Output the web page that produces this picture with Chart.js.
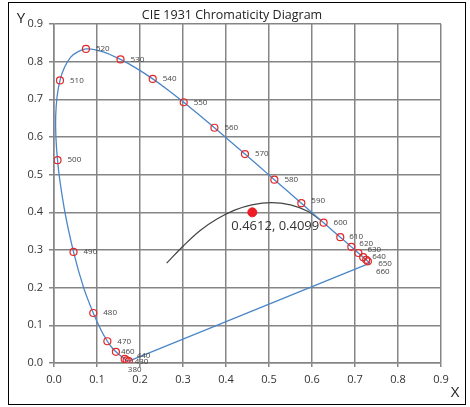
<!DOCTYPE html>
<html>
<head>
<meta charset="utf-8">
<script src="https://cdn.jsdelivr.net/npm/chart.js@4/dist/chart.umd.min.js"></script>
<style>
  html, body { margin: 0; padding: 0; background: #fff; }
  #frame { position: absolute; left: 8px; top: 2px; width: 458px; height: 403px; border: 1px solid #000; box-sizing: border-box; }
  #chart { position: absolute; left: 0; top: 0; }
</style>
</head>
<body>
<div id="frame"></div>
<canvas id="chart" width="470" height="407"></canvas>
<script>
// spectral locus, CIE 1931 2deg, 5 nm steps
const locusNm = [380,385,390,395,400,405,410,415,420,425,430,435,440,445,450,455,460,465,470,475,480,485,490,495,500,505,510,515,520,525,530,535,540,545,550,555,560,565,570,575,580,585,590,595,600,605,610,615,620,625,630,635,640,645,650,655,660,665,670,675,680,685,690,695,700];
const locusX = [0.1741,0.1740,0.1738,0.1736,0.1733,0.1730,0.1726,0.1721,0.1714,0.1703,0.1689,0.1669,0.1644,0.1611,0.1566,0.1510,0.1440,0.1355,0.1241,0.1096,0.0913,0.0687,0.0454,0.0235,0.0082,0.0039,0.0139,0.0389,0.0743,0.1142,0.1547,0.1929,0.2296,0.2658,0.3016,0.3373,0.3731,0.4087,0.4441,0.4788,0.5125,0.5448,0.5752,0.6029,0.6270,0.6482,0.6658,0.6801,0.6915,0.7006,0.7079,0.7140,0.7190,0.7230,0.7260,0.7283,0.7300,0.7311,0.7320,0.7327,0.7334,0.7340,0.7344,0.7346,0.7347];
const locusY = [0.0050,0.0050,0.0049,0.0049,0.0048,0.0048,0.0048,0.0048,0.0051,0.0058,0.0069,0.0086,0.0109,0.0138,0.0177,0.0227,0.0297,0.0399,0.0578,0.0868,0.1327,0.2007,0.2950,0.4127,0.5384,0.6548,0.7502,0.8120,0.8338,0.8262,0.8059,0.7816,0.7543,0.7243,0.6923,0.6589,0.6245,0.5896,0.5547,0.5202,0.4866,0.4544,0.4242,0.3965,0.3725,0.3514,0.3340,0.3197,0.3083,0.2993,0.2920,0.2859,0.2809,0.2770,0.2740,0.2717,0.2700,0.2689,0.2680,0.2673,0.2666,0.2660,0.2656,0.2654,0.2653];

// wavelengths marked with a circle and a label
const markerNm = [380,430,440,460,470,480,490,500,510,520,530,540,550,560,570,580,590,600,610,620,630,640,650,660];

// dark arc
const arcX = [0.262,0.300,0.340,0.380,0.420,0.460,0.505,0.550,0.590,0.619];
const arcY = [0.265,0.310,0.352,0.383,0.406,0.420,0.426,0.420,0.403,0.380];

// measured point
const pointX = [0.4612];
const pointY = [0.400];
const pointText = '0.4612, 0.4099';

const xTicks = [0,0.1,0.2,0.3,0.4,0.5,0.6,0.7,0.8,0.9];
const yTicks = [0,0.1,0.2,0.3,0.4,0.5,0.6,0.7,0.8,0.9];

const FONT = "'Open Sans', 'Noto Sans', sans-serif";

const locusPts = locusX.map((x, i) => ({ x: x, y: locusY[i] }));
const markerPts = markerNm.map(nm => {
  const i = locusNm.indexOf(nm);
  return { x: locusX[i], y: locusY[i] };
});
const purplePts = [locusPts[0], locusPts[locusPts.length - 1]];
const arcPts = arcX.map((x, i) => ({ x: x, y: arcY[i] }));
const centerPts = pointX.map((x, i) => ({ x: x, y: pointY[i] }));

// label nudges (px) for the crowded ends
const nudge = {
  380: [-1, 9], 430: [8, 1], 440: [12, -3], 460: [5, 0],
  590: [10, -2], 610: [9, 0], 620: [8, -3], 630: [9, -3],
  640: [9, 0], 650: [12, 4], 660: [8, 10]
};

const labelPlugin = {
  id: 'labels',
  afterDatasetsDraw(chart) {
    const ctx = chart.ctx;
    ctx.save();
    // wavelength labels
    const meta = chart.getDatasetMeta(2);
    ctx.font = "8px " + FONT;
    ctx.fillStyle = '#444';
    ctx.textAlign = 'left';
    ctx.textBaseline = 'middle';
    meta.data.forEach((el, i) => {
      const nm = markerNm[i];
      const d = nudge[nm] || [10, 0];
      ctx.fillText(String(nm), el.x + d[0], el.y + d[1]);
    });
    // point label
    const pm = chart.getDatasetMeta(3).data[0];
    ctx.font = "13px " + FONT;
    ctx.fillStyle = '#333';
    ctx.fillText(pointText, pm.x - 21, pm.y + 14);
    // titles
    ctx.font = "12.5px " + FONT;
    ctx.fillStyle = '#222';
    ctx.textAlign = 'center';
    ctx.fillText('CIE 1931 Chromaticity Diagram', 232, 15);
    ctx.font = "15px " + FONT;
    ctx.fillText('Y', 21, 19);
    ctx.fillText('X', 455, 393);
    ctx.restore();
  }
};

new Chart(document.getElementById('chart'), {
  type: 'scatter',
  data: {
    datasets: [
      { data: arcPts, showLine: true, borderColor: '#444', borderWidth: 1.2, pointRadius: 0, tension: 0.4, order: 5 },
      { data: locusPts, showLine: true, borderColor: '#4a86c8', borderWidth: 1.3, pointRadius: 0, tension: 0.3, order: 4 },
      { data: markerPts, showLine: false, pointRadius: 3.5, pointBorderColor: '#e02828', pointBorderWidth: 1.2, pointBackgroundColor: 'rgba(0,0,0,0)', order: 2 },
      { data: centerPts, showLine: false, pointRadius: 4.5, pointBackgroundColor: '#ee1c24', pointBorderColor: '#ee1c24', order: 1 },
      { data: purplePts, showLine: true, borderColor: '#4a86c8', borderWidth: 1.3, pointRadius: 0, tension: 0, order: 3 }
    ]
  },
  options: {
    responsive: false,
    animation: false,
    layout: { padding: { left: 0, top: 24, right: 29, bottom: 0 } },
    plugins: { legend: { display: false }, tooltip: { enabled: false }, title: { display: false } },
    scales: {
      x: {
        type: 'linear', min: 0, max: 0.9,
        afterBuildTicks: s => { s.ticks = xTicks.map(v => ({ value: v })); },
        afterFit: s => { s.height = 44; },
        grid: { color: '#858585', lineWidth: 1.5, tickLength: 4 },
        border: { color: '#858585', width: 1.5 },
        ticks: { color: '#333', font: { family: FONT, size: 11 }, padding: 6, callback: v => v.toFixed(1) }
      },
      y: {
        type: 'linear', min: 0, max: 0.9,
        afterBuildTicks: s => { s.ticks = yTicks.map(v => ({ value: v })); },
        afterFit: s => { s.width = 54; },
        grid: { color: '#858585', lineWidth: 1.5, tickLength: 5 },
        border: { color: '#858585', width: 1.5 },
        ticks: { color: '#333', font: { family: FONT, size: 11 }, padding: 6, callback: v => v.toFixed(1) }
      }
    }
  },
  plugins: [labelPlugin]
});
</script>
</body>
</html>
